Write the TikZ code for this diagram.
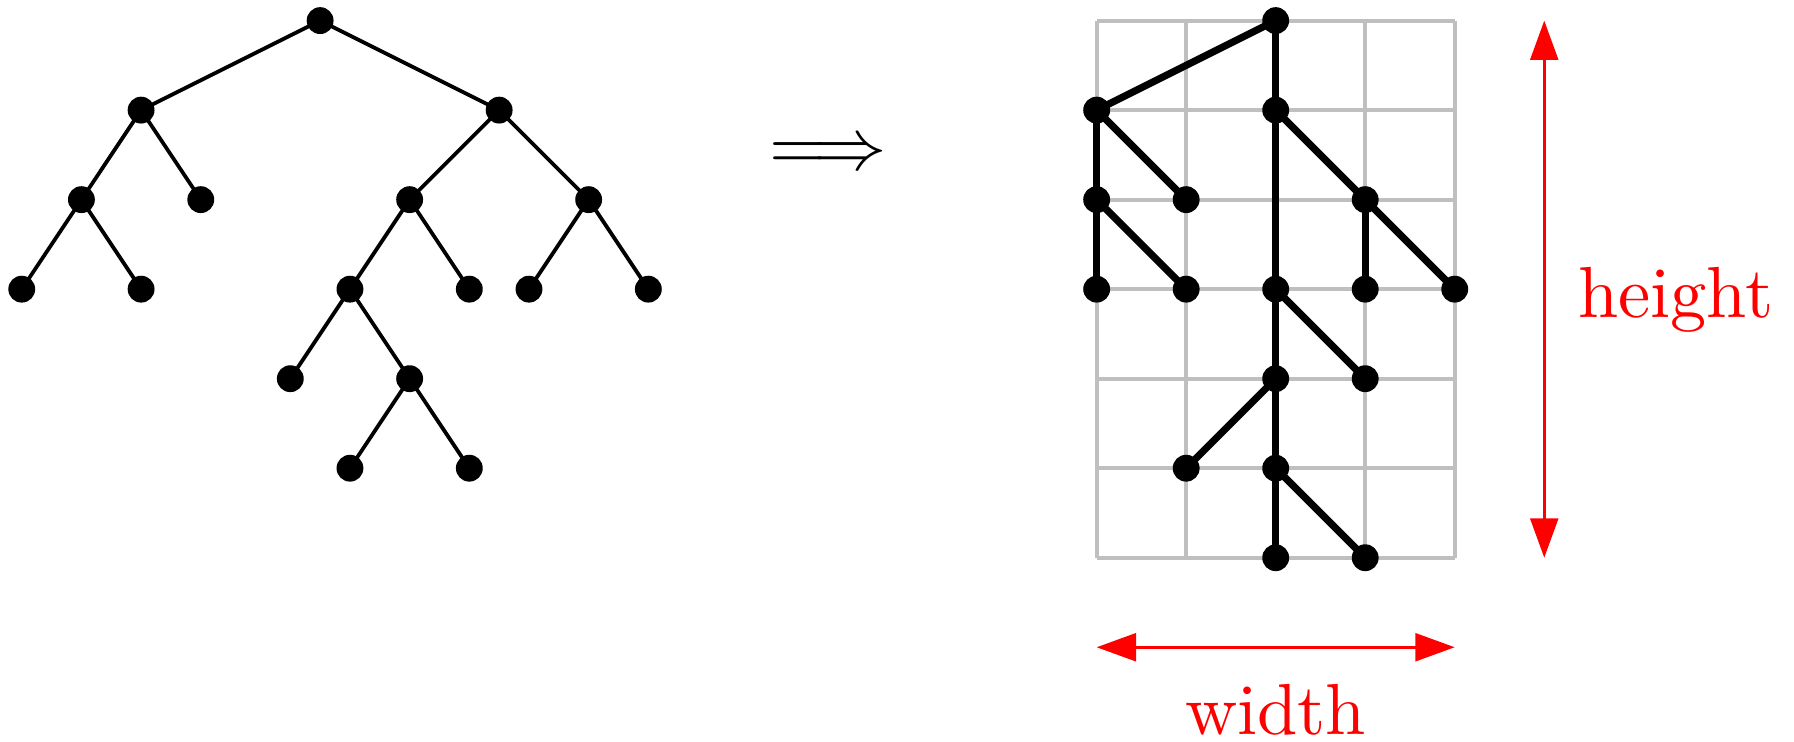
\documentclass[tikz,border=0pt]{standalone}
\usepackage{xcolor}
\usepackage{tikz}
\usetikzlibrary{arrows.meta,positioning}

\begin{document}
\begin{tikzpicture}[
    >=Triangle,
    vertex/.style={circle, fill=black, minimum size=0.3cm, inner sep=0pt},
    treeedge/.style={line width=1.2pt},
    hvedge/.style={line width=2.3pt},
    gridline/.style={gray!50, line width=1.2pt},
    dim/.style={{Triangle[length=4.4mm, width=3.1mm]}-{Triangle[length=4.4mm, width=3.1mm]}, red, line width=1pt},
    dimlabel/.style={text=red, inner sep=0pt, scale=2.3},
]
\useasboundingbox (0,0) rectangle (20.04,-8.28);

% --- Binary tree (left) ---
\begin{scope}[shift={(0.243,-0.23)}, x=0.3333cm]
\foreach \name/\k/\lev in {r/10/0, rl/4/1, rr/16/1, rll/2/2, rlr/6/2, rrl/13/2, rrr/19/2,
        rlll/0/3, rllr/4/3, rrll/11/3, rrlr/15/3, rrrl/17/3, rrrr/21/3,
        rrlll/9/4, rrllr/13/4, rrllrl/11/5, rrllrr/15/5} {
    \node[vertex] (t-\name) at (\k, -\lev) {};
}
\end{scope}

% --- Same tree drawn on the grid (right) ---
\begin{scope}[shift={(12.25,-0.23)}]
\draw[gridline] (0,-6) grid (4,0);
\foreach \name/\i/\j in {r/2/0, rl/0/1, rr/2/1, rll/0/2, rlr/1/2, rrr/3/2,
        rlll/0/3, rllr/1/3, rrl/2/3, rrrl/3/3, rrrr/4/3,
        rrll/2/4, rrlr/3/4, rrlll/1/5, rrllr/2/5, rrllrl/2/6, rrllrr/3/6} {
    \node[vertex] (h-\name) at (\i, -\j) {};
}
\coordinate (htop) at (5,0);
\coordinate (hbot) at (5,-6);
\coordinate (wleft) at (0,-7);
\coordinate (wright) at (4,-7);
\end{scope}

% --- Edges (same parent/child pairs in both drawings) ---
\foreach \p/\c in {r/rl, r/rr, rl/rll, rl/rlr, rll/rlll, rll/rllr,
        rr/rrl, rr/rrr, rrl/rrll, rrl/rrlr, rrr/rrrl, rrr/rrrr,
        rrll/rrlll, rrll/rrllr, rrllr/rrllrl, rrllr/rrllrr} {
    \draw[treeedge] (t-\p.center) -- (t-\c.center);
    \draw[hvedge] (h-\p.center) -- (h-\c.center);
}

% --- Arrow between the two ---
\node[scale=2.33, anchor=base] (implies) at (9.25,-1.894) {$\Longrightarrow$};

% --- Height and width ---
\draw[dim] (htop) -- (hbot)
    node[midway, anchor=base west, xshift=0.34cm, yshift=-0.315cm, dimlabel] (hlabel) {height};
\draw[dim] (wleft) -- (wright)
    node[midway, anchor=base, yshift=-0.97cm, dimlabel] (wlabel) {width};

\end{tikzpicture}
\end{document}
